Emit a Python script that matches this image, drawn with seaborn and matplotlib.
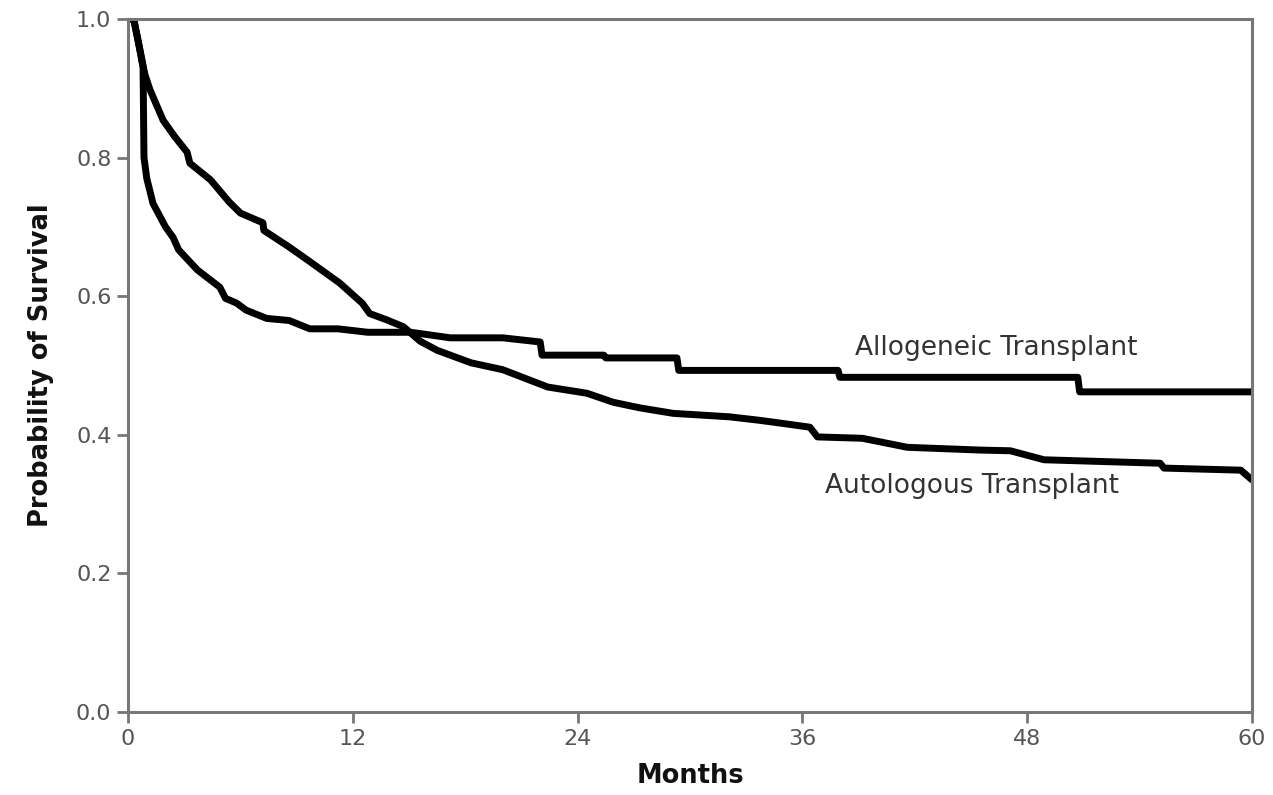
import matplotlib
matplotlib.use("Agg")
import matplotlib.pyplot as plt
import seaborn as sns
import pandas as pd

# Allogeneic transplant KM curve vertices (months, survival)
allo_months = [0, 0.3, 0.6, 0.8, 0.85, 1.0, 1.33, 2.0, 2.4, 2.7, 3.7, 4.9, 5.2, 5.8, 6.3,
               7.4, 8.6, 9.7, 11.2, 12.8, 15.1, 17.2, 20.0, 22.0, 22.1, 25.4, 25.5, 29.3,
               29.4, 37.9, 38.0, 50.7, 50.8, 60.0]
allo_surv = [1.0, 1.0, 0.96, 0.93, 0.80, 0.77, 0.734, 0.70, 0.685, 0.667, 0.638, 0.613, 0.597,
             0.59, 0.58, 0.568, 0.565, 0.553, 0.553, 0.548, 0.548, 0.54, 0.54, 0.534, 0.515,
             0.515, 0.511, 0.511, 0.493, 0.493, 0.483, 0.483, 0.462, 0.462]

# Autologous transplant KM curve vertices (months, survival)
auto_months = [0, 0.3, 0.6, 0.9, 1.17, 1.87, 2.5, 3.15, 3.3, 4.4, 5.4, 6.0, 7.2, 7.25, 8.6,
               9.6, 11.3, 12.5, 12.9, 13.8, 14.7, 15.6, 16.5, 18.3, 20.0, 22.4, 24.5, 25.9,
               27.3, 29.1, 32.1, 33.7, 34.8, 36.4, 36.8, 39.2, 41.6, 45.5, 47.1, 48.9, 55.1,
               55.3, 59.4, 60.0]
auto_surv = [1.0, 1.0, 0.96, 0.92, 0.898, 0.854, 0.83, 0.808, 0.792, 0.768, 0.736, 0.72, 0.706,
             0.695, 0.671, 0.652, 0.619, 0.59, 0.575, 0.566, 0.556, 0.535, 0.522, 0.504, 0.494,
             0.469, 0.46, 0.447, 0.439, 0.431, 0.426, 0.421, 0.417, 0.411, 0.397, 0.395,
             0.382, 0.378, 0.377, 0.364, 0.359, 0.352, 0.349, 0.335]

x_ticks = [0, 12, 24, 36, 48, 60]
y_ticks = [0.0, 0.2, 0.4, 0.6, 0.8, 1.0]
y_tick_labels = ["0.0", "0.2", "0.4", "0.6", "0.8", "1.0"]
x_label = "Months"
y_label = "Probability of Survival"
allo_name = "Allogeneic Transplant"
auto_name = "Autologous Transplant"

df = pd.concat([
    pd.DataFrame({"Months": allo_months, "Survival": allo_surv, "Group": allo_name}),
    pd.DataFrame({"Months": auto_months, "Survival": auto_surv, "Group": auto_name}),
], ignore_index=True)

sns.set_theme(style="white")
plt.rcParams["font.family"] = ["DejaVu Sans"]

fig = plt.figure(figsize=(12.73, 7.95), dpi=100)
ax = fig.add_axes([0.1006, 0.1044, 0.8829, 0.8716])

sns.lineplot(data=df, x="Months", y="Survival", hue="Group", units="Group",
             estimator=None, sort=False, palette={allo_name: "black", auto_name: "black"},
             linewidth=5.0, legend=False, ax=ax)

ax.set_xlim(0, 60)
ax.set_ylim(0, 1.0)
ax.set_xticks(x_ticks)
ax.set_xticklabels([str(t) for t in x_ticks])
ax.set_yticks(y_ticks)
ax.set_yticklabels(y_tick_labels)

spine_color = "#777777"
for s in ax.spines.values():
    s.set_color(spine_color)
    s.set_linewidth(2.2)
    s.set_visible(True)

ax.tick_params(axis="both", which="major", direction="out", length=8, width=2,
               color=spine_color, labelcolor="#555555", labelsize=16, pad=4)
ax.tick_params(axis="y", left=True)
ax.tick_params(axis="x", bottom=True)

ax.set_xlabel(x_label, fontsize=18.5, fontweight="bold", color="#111111", labelpad=10)
ax.set_ylabel(y_label, fontsize=18.5, fontweight="bold", color="#111111", labelpad=16)

ax.text(38.8, 0.525, allo_name, fontsize=19, color="#333333", va="center", ha="left")
ax.text(37.2, 0.326, auto_name, fontsize=19, color="#333333", va="center", ha="left")

fig.savefig("out.png", dpi=100)
